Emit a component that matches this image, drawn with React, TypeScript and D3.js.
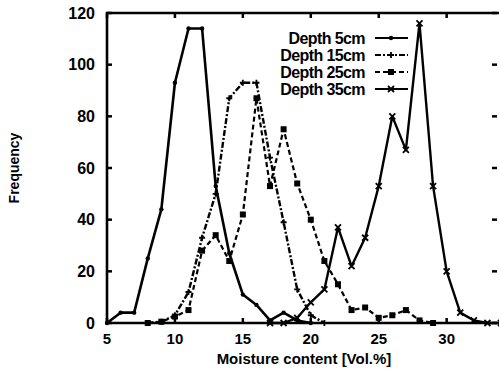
import React from "react";
import * as d3 from "d3";

// moisture content classes (Vol.%) and frequencies per depth
const depth5X = [5, 6, 7, 8, 9, 10, 11, 12, 13, 14, 15, 16, 17, 18, 19, 20];
const depth5Y = [0, 4, 4, 25, 44, 93, 114, 114, 53, 27, 11, 7, 1, 4, 1, 0];

const depth15X = [8, 9, 10, 11, 12, 13, 14, 15, 16, 17, 18, 19, 20, 21];
const depth15Y = [0, 0.5, 3, 12, 33, 50, 87, 93, 93, 64, 39, 13, 3, 0];

const depth25X = [8, 9, 10, 11, 12, 13, 14, 15, 16, 17, 18, 19, 20, 21, 22, 23, 24, 25, 26, 27, 28, 29];
const depth25Y = [0, 0.5, 2.5, 5, 28, 34, 24, 42, 87, 53, 75, 54, 40, 24, 15, 5, 6, 2, 3, 5, 1, 0];

const depth35X = [17, 18, 19, 20, 21, 22, 23, 24, 25, 26, 27, 28, 29, 30, 31, 32, 33, 34];
const depth35Y = [0, 0, 2, 8, 13, 37, 22, 33, 53, 80, 67, 116, 53, 20, 4, 1, 0, 0];

const legendLabels = ["Depth 5cm", "Depth 15cm", "Depth 25cm", "Depth 35cm"];
const xTicks = [5, 10, 15, 20, 25, 30];
const yTicks = [0, 20, 40, 60, 80, 100, 120];

const W = 499;
const H = 370;
const margin = { top: 13, right: -2, bottom: 47, left: 107 };
const FONT = "'Liberation Sans', Arial, sans-serif";

type Marker = "dot" | "plus" | "square" | "cross";

const Mark: React.FC<{ x: number; y: number; kind: Marker }> = ({ x, y, kind }) => {
  if (kind === "square") return <rect x={x - 3} y={y - 3} width={6} height={6} fill="#000" />;
  if (kind === "dot") return <circle cx={x} cy={y} r={2.2} fill="#000" />;
  if (kind === "plus")
    return (
      <path d={`M${x - 3},${y}H${x + 3}M${x},${y - 3}V${y + 3}`} stroke="#000" strokeWidth={1.8} />
    );
  return (
    <path d={`M${x - 3},${y - 3}L${x + 3},${y + 3}M${x - 3},${y + 3}L${x + 3},${y - 3}`} stroke="#000" strokeWidth={1.8} />
  );
};

export default function App() {
  const x = d3.scaleLinear().domain([5, 34]).range([margin.left, W - margin.right]);
  const y = d3.scaleLinear().domain([0, 120]).range([H - margin.bottom, margin.top]);

  const series = [
    { xs: depth5X, ys: depth5Y, dash: "none", width: 2.6, marker: "dot" as Marker },
    { xs: depth15X, ys: depth15Y, dash: "6,2,2,2", width: 2.4, marker: "plus" as Marker },
    { xs: depth25X, ys: depth25Y, dash: "5,3", width: 2.2, marker: "square" as Marker },
    { xs: depth35X, ys: depth35Y, dash: "none", width: 2.4, marker: "cross" as Marker },
  ];

  const line = d3
    .line<[number, number]>()
    .x((d) => x(d[0]))
    .y((d) => y(d[1]));

  const x0 = margin.left;
  const x1 = W - margin.right;
  const y0 = H - margin.bottom;
  const y1 = margin.top;

  return (
    <svg width={W} height={H} style={{ position: "absolute", left: 0, top: 0, background: "#fff" }}>
      {/* frame */}
      <path d={`M${x1},${y1}H${x0}V${y0}H${x1}`} fill="none" stroke="#000" strokeWidth={2.6} />

      {/* y ticks */}
      {yTicks.map((t) => (
        <g key={"y" + t}>
          <line x1={x0} x2={x0 + 5} y1={y(t)} y2={y(t)} stroke="#000" strokeWidth={2.5} />
          <line x1={x1 - 4} x2={x1 - 9} y1={y(t)} y2={y(t)} stroke="#000" strokeWidth={2.5} />
          <text
            x={x0 - 12}
            y={y(t)}
            dy="0.36em"
            textAnchor="end"
            fontFamily={FONT}
            fontWeight="bold"
            fontSize={16}
            fill="#000"
          >
            {t}
          </text>
        </g>
      ))}

      {/* x ticks */}
      {xTicks.map((t) => (
        <g key={"x" + t}>
          <line x1={x(t)} x2={x(t)} y1={y0} y2={y0 - 5} stroke="#000" strokeWidth={2.5} />
          <line x1={x(t)} x2={x(t)} y1={y1} y2={y1 + 5} stroke="#000" strokeWidth={2.5} />
          <text
            x={x(t)}
            y={y0 + 16}
            dy="0.36em"
            textAnchor="middle"
            fontFamily={FONT}
            fontWeight="bold"
            fontSize={15}
            fill="#000"
          >
            {t}
          </text>
        </g>
      ))}

      {/* axis titles */}
      <text
        x={(x0 + x1) / 2}
        y={359}
        dy="0.36em"
        textAnchor="middle"
        fontFamily={FONT}
        fontWeight="bold"
        fontSize={15}
        fill="#000"
      >
        Moisture content [Vol.%]
      </text>
      <text
        transform={`translate(14,${(y0 + y1) / 2}) rotate(-90)`}
        dy="0.36em"
        textAnchor="middle"
        fontFamily={FONT}
        fontWeight="bold"
        fontSize={14}
        fill="#000"
      >
        Frequency
      </text>

      {/* data */}
      {series.map((s, i) => {
        const pts = s.xs.map((v, j) => [v, s.ys[j]] as [number, number]);
        return (
          <g key={"s" + i}>
            <path
              d={line(pts) || ""}
              fill="none"
              stroke="#000"
              strokeWidth={s.width}
              strokeDasharray={s.dash}
              strokeLinejoin="round"
            />
            {pts.map((p, j) => (
              <Mark key={j} x={x(p[0])} y={y(p[1])} kind={s.marker} />
            ))}
          </g>
        );
      })}

      {/* legend */}
      {legendLabels.map((lab, i) => {
        const ly = 38 + i * 17;
        const s = series[i];
        return (
          <g key={"l" + i}>
            <text
              x={365}
              y={ly}
              dy="0.36em"
              textAnchor="end"
              fontFamily={FONT}
              fontWeight="bold"
              fontSize={16}
              letterSpacing={-0.6}
              fill="#000"
            >
              {lab}
            </text>
            <line
              x1={375}
              x2={408}
              y1={ly}
              y2={ly}
              stroke="#000"
              strokeWidth={1.8}
              strokeDasharray={s.dash}
            />
            <Mark x={391} y={ly} kind={s.marker} />
          </g>
        );
      })}
    </svg>
  );
}
